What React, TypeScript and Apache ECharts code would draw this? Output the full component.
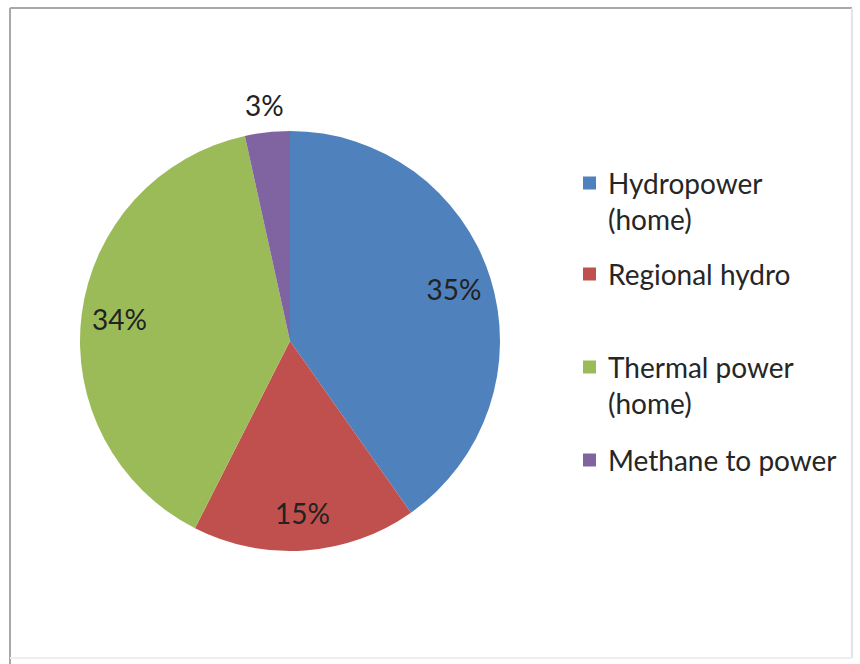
import React, { useEffect, useRef } from 'react';
import * as echarts from 'echarts';

const categories = ['Hydropower\n(home)', 'Regional hydro', 'Thermal power\n(home)', 'Methane to power'];
const values = [35, 15, 34, 3];
const colors = ['#4F81BD', '#C0504D', '#9BBB59', '#8064A2'];

export default function App() {
  const ref = useRef<HTMLDivElement>(null);
  useEffect(() => {
    const chart = echarts.init(ref.current!, null, { renderer: 'svg' });
    const font = 'Lato';
    const iconCenters = [183, 274, 367, 460];
    const legends = categories.map((name, i) => {
      const multi = name.includes('\n');
      return {
        data: [{ name, icon: 'rect' }],
        orient: 'vertical',
        left: 583,
        top: iconCenters[i] - (multi ? 54 : 18),
        padding: 0,
        itemWidth: 13,
        itemHeight: 13,
        selectedMode: false,
        formatter: (n: string) => (multi ? '\n' + n : n),
        textStyle: {
          fontFamily: font,
          fontSize: 28,
          color: '#262626',
          lineHeight: 36,
          padding: [0, 0, 0, 7],
        },
      };
    });
    const mainData = categories.map((name, i) => ({ name, value: values[i], itemStyle: { color: colors[i] } }));
    const overlayA = categories.map((name, i) => ({
      name,
      value: values[i],
      label: { show: i !== 3 },
    }));
    const overlayB = categories.map((name, i) => ({
      name,
      value: values[i],
      label: { show: i === 3 },
    }));
    const labelStyle = {
      position: 'inside',
      formatter: '{c}%',
      fontFamily: font,
      fontSize: 28,
      color: '#222222',
    };
    chart.setOption({
      animation: false,
      backgroundColor: '#ffffff',
      legend: legends,
      graphic: [
        { type: 'line', shape: { x1: 10, y1: 8, x2: 852, y2: 8 }, style: { stroke: '#a8a8a8', lineWidth: 2 } },
        { type: 'line', shape: { x1: 10, y1: 8, x2: 10, y2: 664 }, style: { stroke: '#a8a8a8', lineWidth: 2 } },
        { type: 'line', shape: { x1: 852, y1: 8, x2: 852, y2: 658 }, style: { stroke: '#e4e4e4', lineWidth: 2 } },
        { type: 'line', shape: { x1: 10, y1: 658, x2: 852, y2: 658 }, style: { stroke: '#eeeeee', lineWidth: 2 } },
      ],
      series: [
        {
          type: 'pie',
          center: [290, 341],
          radius: 210,
          startAngle: 90,
          clockwise: true,
          avoidLabelOverlap: false,
          label: { show: false },
          labelLine: { show: false },
          emphasis: { disabled: true },
          data: mainData,
        },
        {
          type: 'pie',
          center: [290, 341],
          radius: [128, 210],
          startAngle: 90,
          silent: true,
          avoidLabelOverlap: false,
          itemStyle: { color: 'rgba(0,0,0,0)' },
          label: labelStyle,
          labelLine: { show: false },
          emphasis: { disabled: true },
          data: overlayA,
        },
        {
          type: 'pie',
          center: [290, 341],
          radius: [222, 246],
          startAngle: 90,
          silent: true,
          avoidLabelOverlap: false,
          itemStyle: { color: 'rgba(0,0,0,0)' },
          label: labelStyle,
          labelLine: { show: false },
          emphasis: { disabled: true },
          data: overlayB,
        },
      ],
    });
    return () => chart.dispose();
  }, []);
  return <div ref={ref} style={{ position: 'absolute', left: 0, top: 0, width: 860, height: 664 }} />;
}
